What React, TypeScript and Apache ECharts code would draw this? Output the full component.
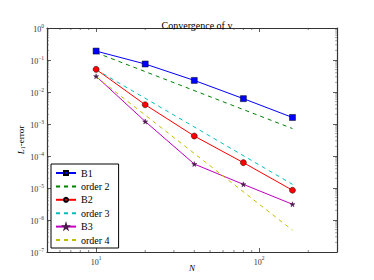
import React, { useEffect, useRef } from "react";
import * as echarts from "echarts";

const N = [10, 20, 40, 80, 160];
const b1 = [0.19, 0.075, 0.023, 0.0062, 0.0016];
const b2 = [0.051, 0.004, 0.00042, 6.2e-5, 8.5e-6];
const b3 = [0.031, 0.0012, 5.6e-5, 1.3e-5, 3.1e-6];
const orderN = [10, 160];
const order2 = [0.17, 0.00072];
const order3 = [0.05, 1.3e-5];
const order4 = [0.03, 4.8e-7];
const xMinorTicks = [6, 7, 8, 9, 20, 30, 40, 50, 60, 70, 80, 90, 200];
const yDecades = [1e-7, 1e-6, 1e-5, 1e-4, 1e-3, 1e-2, 1e-1];
const yMinorMult = [2, 3, 4, 5, 6, 7, 8, 9];

const FONT = "'Liberation Serif', 'DejaVu Serif', serif";

const powLabel = (v: number) => {
  const e = Math.log10(v);
  const r = Math.round(e);
  if (Math.abs(e - r) > 1e-6) return "";
  return "{b|10}{e|" + String(r).replace("-", "−") + "}";
};
const labelRich = {
  b: { fontFamily: FONT, fontSize: 8, lineHeight: 11, color: "#333", verticalAlign: "bottom" },
  e: { fontFamily: FONT, fontSize: 5.5, lineHeight: 6, color: "#333", verticalAlign: "top" },
};

const STAR = "path://M50,0 L61,35 L98,35 L68,57 L79,91 L50,70 L21,91 L32,57 L2,35 L39,35 Z";

export default function App() {
  const ref = useRef<HTMLDivElement>(null);
  useEffect(() => {
    const chart = echarts.init(ref.current!, null, { renderer: "svg" });
    const pairs = (xs: number[], ys: number[]) => xs.map((x, i) => [x, ys[i]]);
    const axisLine = { show: true, lineStyle: { color: "#333", width: 1.2 } };
    const tick = { show: true, inside: true, length: 4, lineStyle: { color: "#333", width: 0.8 } };
    const yMinor: number[][] = [];
    yDecades.forEach((d) => yMinorMult.forEach((m) => yMinor.push([d * m])));
    const legendText = { fontFamily: FONT, fontSize: 10, color: "#000", lineHeight: 10 };
    const dashItem = (name: string) => ({ name, itemStyle: { opacity: 0 }, textStyle: legendText });
    chart.setOption({
      animation: false,
      backgroundColor: "#fff",
      textStyle: { fontFamily: FONT },
      title: {
        text: "Convergence of v",
        left: 192,
        textAlign: "center",
        top: 15,
        textStyle: { fontFamily: FONT, fontSize: 10, fontWeight: "normal", color: "#000" },
      },
      grid: { left: 47, right: 37, top: 28, bottom: 28 },
      legend: {
        orient: "vertical",
        left: 51,
        top: 164,
        padding: [4, 9, 3, 4],
        itemWidth: 20,
        itemHeight: 5,
        itemGap: 3.4,
        borderColor: "#000",
        borderWidth: 1,
        borderRadius: 0,
        backgroundColor: "#fff",
        textStyle: legendText,
        data: [
          { name: "B1", textStyle: legendText },
          dashItem("order 2"),
          { name: "B2", textStyle: legendText },
          dashItem("order 3"),
          { name: "B3", textStyle: legendText },
          dashItem("order 4"),
        ],
      },
      xAxis: [
        {
          type: "log",
          logBase: 10,
          min: 5,
          max: 300,
          name: "N",
          nameLocation: "middle",
          nameGap: 11,
          nameMoveOverlap: false,
          nameTextStyle: { fontFamily: FONT, fontSize: 9, fontStyle: "italic", color: "#000" },
          axisLine,
          axisTick: tick,
          axisLabel: {
            formatter: powLabel,
            rich: labelRich,
            margin: 3,
            showMinLabel: false,
            showMaxLabel: false,
          },
          splitLine: { show: false },
        },
        {
          type: "log",
          logBase: 10,
          min: 5,
          max: 300,
          position: "top",
          axisLine,
          axisTick: tick,
          axisLabel: { show: false },
          splitLine: { show: false },
        },
      ],
      yAxis: [
        {
          type: "log",
          logBase: 10,
          min: 1e-7,
          max: 1,
          interval: 1,
          name: "{i|L}{s|1}{n|-error}",
          nameLocation: "middle",
          nameGap: 21,
          nameMoveOverlap: false,
          nameRotate: 90,
          nameTextStyle: {
            fontFamily: FONT,
            fontSize: 9,
            color: "#000",
            rich: {
              i: { fontFamily: FONT, fontSize: 9, fontStyle: "italic", color: "#000" },
              s: { fontFamily: FONT, fontSize: 6, color: "#000", padding: [4, 0, 0, 0] },
              n: { fontFamily: FONT, fontSize: 9, color: "#000" },
            },
          },
          axisLine,
          axisTick: tick,
          axisLabel: { formatter: powLabel, rich: labelRich, margin: 3 },
          splitLine: { show: false },
        },
        {
          type: "log",
          logBase: 10,
          min: 1e-7,
          max: 1,
          interval: 1,
          position: "right",
          axisLine,
          axisTick: tick,
          axisLabel: { show: false },
          splitLine: { show: false },
        },
      ],
      series: [
        {
          name: "B1",
          type: "line",
          data: pairs(N, b1),
          symbol: "rect",
          symbolSize: 6,
          lineStyle: { color: "#0000ff", width: 1 },
          itemStyle: { color: "#0000ff", borderColor: "#000", borderWidth: 0.5 },
        },
        {
          name: "order 2",
          type: "line",
          data: pairs(orderN, order2),
          symbol: "none",
          lineStyle: { color: "#008000", width: 1, type: [4, 4] },
          itemStyle: { color: "#008000" },
        },
        {
          name: "B2",
          type: "line",
          data: pairs(N, b2),
          symbol: "circle",
          symbolSize: 6,
          lineStyle: { color: "#ff0000", width: 1 },
          itemStyle: { color: "#ff0000", borderColor: "#000", borderWidth: 0.5 },
        },
        {
          name: "order 3",
          type: "line",
          data: pairs(orderN, order3),
          symbol: "none",
          lineStyle: { color: "#00bfbf", width: 1, type: [4, 4] },
          itemStyle: { color: "#00bfbf" },
        },
        {
          name: "B3",
          type: "line",
          data: pairs(N, b3),
          symbol: STAR,
          symbolSize: 5,
          lineStyle: { color: "#bf00bf", width: 1 },
          itemStyle: { color: "#4a1a4a", borderColor: "#4a1a4a", borderWidth: 0.5 },
        },
        {
          name: "order 4",
          type: "line",
          data: pairs(orderN, order4),
          symbol: "none",
          lineStyle: { color: "#bfbf00", width: 1, type: [4, 4] },
          itemStyle: { color: "#bfbf00" },
        },
        {
          name: "xMinorTicks",
          type: "custom",
          silent: true,
          data: xMinorTicks.map((v) => [v, 1]),
          renderItem: (_p: any, api: any) => {
            const x = api.value(0);
            const pb = api.coord([x, 1e-7]);
            const pt = api.coord([x, 1]);
            const style = { stroke: "#333", lineWidth: 0.6 };
            return {
              type: "group",
              children: [
                { type: "line", shape: { x1: pb[0], y1: pb[1], x2: pb[0], y2: pb[1] - 2 }, style },
                { type: "line", shape: { x1: pt[0], y1: pt[1], x2: pt[0], y2: pt[1] + 2 }, style },
              ],
            };
          },
        },
        {
          name: "yMinorTicks",
          type: "custom",
          silent: true,
          data: yMinor.map((v) => [5, v[0]]),
          renderItem: (_p: any, api: any) => {
            const y = api.value(1);
            const pl = api.coord([5, y]);
            const pr = api.coord([300, y]);
            const style = { stroke: "#555", lineWidth: 0.5 };
            return {
              type: "group",
              children: [
                { type: "line", shape: { x1: pl[0], y1: pl[1], x2: pl[0] + 2, y2: pl[1] }, style },
                { type: "line", shape: { x1: pr[0], y1: pr[1], x2: pr[0] - 2, y2: pr[1] }, style },
              ],
            };
          },
        },
      ],
    });
    return () => chart.dispose();
  }, []);
  return (
    <div
      ref={ref}
      style={{ position: "absolute", left: 0, top: 0, width: 374, height: 280 }}
    />
  );
}
